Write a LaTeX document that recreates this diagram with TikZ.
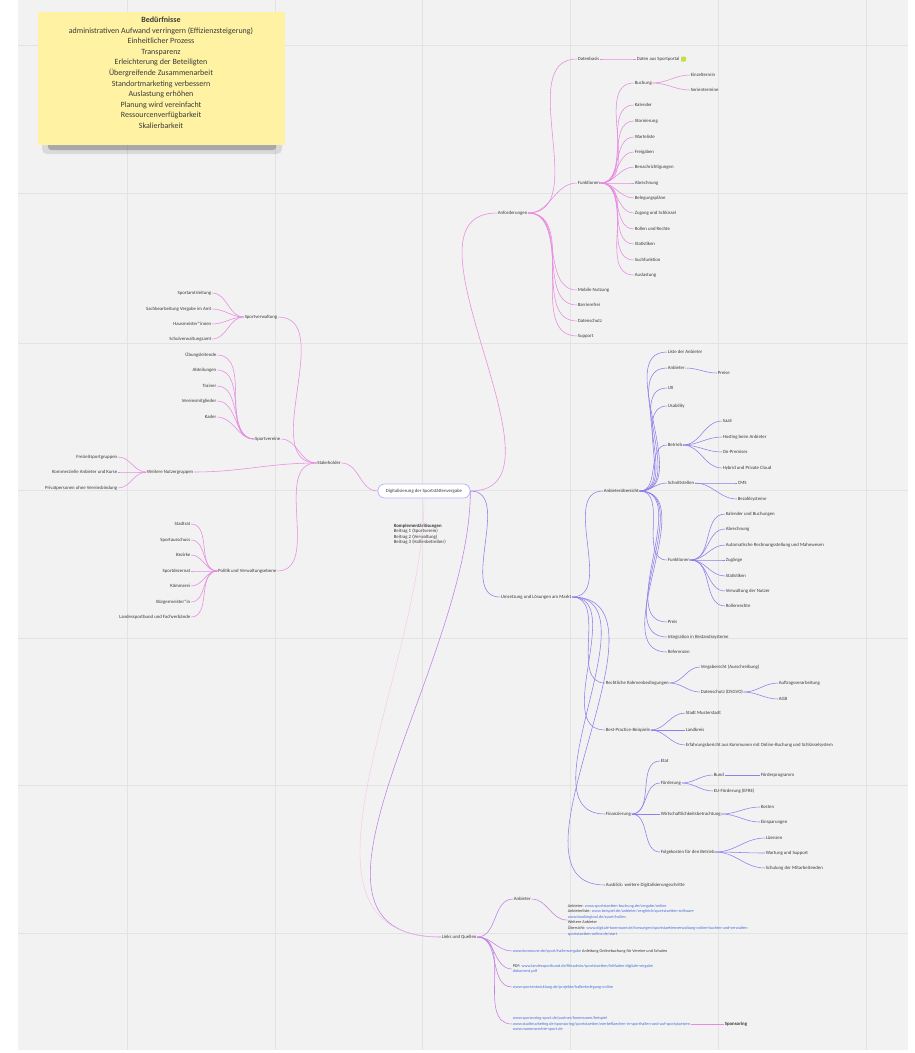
\documentclass[tikz,border=0pt]{standalone}
\usepackage{fontspec}
\setmainfont{Carlito}

\definecolor{bg}{HTML}{F2F2F2}
\definecolor{gridc}{HTML}{E3E3E3}
\definecolor{notiz}{HTML}{FFF3A3}
\definecolor{pinkl}{HTML}{E88AE2}
\definecolor{viol}{HTML}{8F7EEB}
\definecolor{lila}{HTML}{C47DE6}
\definecolor{linkc}{HTML}{4C70DA}
\definecolor{txt}{HTML}{3A3A3A}

\begin{document}
\begin{tikzpicture}[x=1pt,y=-1pt,
  every node/.style={font=\fontsize{4.8}{5.6}\selectfont, text=txt, inner sep=0.6pt},
  rl/.style={anchor=west},
  ll/.style={anchor=east},
  pk/.style={draw=pinkl, line width=0.55pt},
  vi/.style={draw=viol, line width=0.55pt},
  li/.style={draw=lila, line width=0.55pt},
  link/.style={anchor=west, align=left, text=linkc, font=\fontsize{4.2}{5.6}\selectfont}]

\useasboundingbox (0,0) rectangle (915,1053);
\fill[white] (0,0) rectangle (915,1053);
\fill[bg] (18,0) rectangle (908,1050);
\foreach \x in {127,275,422,570,718,866}
  \draw[gridc, line width=0.8pt] (\x,0) -- (\x,1050);
\foreach \y in {45,193,343,490,638,785,933}
  \draw[gridc, line width=0.8pt] (18,\y) -- (908,\y);

% Notiz
\fill[black, opacity=0.10, rounded corners=5pt] (42,134) rectangle (282,154);
\fill[black, opacity=0.22, rounded corners=3pt] (48,139) rectangle (276,150);
\node[fill=notiz, minimum width=247pt, minimum height=133pt, anchor=north west] (zettel) at (38,12) {};
\node[anchor=north, align=center, font=\fontsize{8}{10.6}\selectfont] (bed) at (161,16) {\textbf{Bedürfnisse}\\
  administrativen Aufwand verringern (Effizienzsteigerung)\\
  Einheitlicher Prozess\\ Transparenz\\ Erleichterung der Beteiligten\\
  Übergreifende Zusammenarbeit\\ Standortmarketing verbessern\\
  Auslastung erhöhen\\ Planung wird vereinfacht\\
  Ressourcenverfügbarkeit\\ Skalierbarkeit};

% Mitte
\node[draw=viol!60, fill=white, rounded corners=6.5pt, minimum width=92pt, minimum height=14pt, line width=0.7pt] (mitte) at (424,491) {Digitalisierung der Sportstättenvergabe};
\node[anchor=north west, align=left] (beitrag) at (393,523) {\textbf{Komplementärlösungen}\\Beitrag 1 (Sportverein)\\Beitrag 2 (Verwaltung)\\Beitrag 3 (Hallenbetreiber)};

% Stakeholder
\node (stake) at (329,463) {Stakeholder};
\draw[pk] (mitte.west) to[out=180,in=0] (stake.east);
\node[ll] (verw) at (278,317) {Sportverwaltung};
\node[ll] (verein) at (281,439) {Sportvereine};
\node[ll] (weitere) at (194,472) {Weitere Nutzergruppen};
\node[ll] (politik) at (277,571) {Politik und Verwaltungsebene};
\foreach \n in {verw,verein,weitere,politik}
  \draw[pk] (stake.west) to[out=180,in=0] (\n.east);

\foreach \lab/\y [count=\i] in {Sportamtsleitung/293, Sachbearbeitung Vergabe im Amt/309, Hausmeister*innen/324, Schulverwaltungsamt/339} {
  \node[ll] (verw\i) at (212,\y) {\lab};
  \draw[pk] (verw.west) to[out=180,in=0] (verw\i.east);
}
\foreach \lab/\y [count=\i] in {Übungsleitende/355, Abteilungen/370, Trainer/386, Vereinsmitglieder/401, Kader/417} {
  \node[ll] (verein\i) at (217,\y) {\lab};
  \draw[pk] (verein.west) to[out=180,in=0] (verein\i.east);
}
\foreach \lab/\y [count=\i] in {Freizeitsportgruppen/457, Kommerzielle Anbieter und Kurse/472, Privatpersonen ohne Vereinsbindung/488} {
  \node[ll] (weitere\i) at (118,\y) {\lab};
  \draw[pk] (weitere.west) to[out=180,in=0] (weitere\i.east);
}
\foreach \lab/\y [count=\i] in {Stadtrat/524, Sportausschuss/540, Bezirke/555, Sportdezernat/571, Kämmerei/586, Bürgermeister*in/602, Landessportbund und Fachverbände/617} {
  \node[ll] (politik\i) at (191,\y) {\lab};
  \draw[pk] (politik.west) to[out=180,in=0] (politik\i.east);
}

% Anforderungen
\node[rl] (anf) at (497,213) {Anforderungen};
\draw[pk] (mitte.east) to[out=0,in=180] (anf.west);
\node[rl] (daten) at (577,59) {Datenbasis};
\node[rl] (funk) at (577,183) {Funktionen};
\draw[pk] (anf.east) to[out=0,in=180] (daten.west);
\draw[pk] (anf.east) to[out=0,in=180] (funk.west);
\node[rl] (portal) at (636,59) {Daten aus Sportportal};
\fill[yellow!70!green!80, rounded corners=0.8pt] (681,56.5) rectangle (686,61.5);
\draw[pk] (daten.east) to[out=0,in=180] (portal.west);
\foreach \lab/\y [count=\i] in {Mobile Nutzung/290, Barrierefrei/305, Datenschutz/321, Support/336} {
  \node[rl] (anf\i) at (577,\y) {\lab};
  \draw[pk] (anf.east) to[out=0,in=180] (anf\i.west);
}
\node[rl] (buchung) at (634,83) {Buchung};
\draw[pk] (funk.east) to[out=0,in=180] (buchung.west);
\node[rl] (einzel) at (690,75) {Einzeltermin};
\node[rl] (serie) at (690,90) {Serientermine};
\draw[pk] (buchung.east) to[out=0,in=180] (einzel.west);
\draw[pk] (buchung.east) to[out=0,in=180] (serie.west);
\foreach \lab/\y [count=\i] in {Kalender/105, Stornierung/121, Warteliste/137, Freigaben/152, Benachrichtigungen/167, Abrechnung/183, Belegungspläne/198, Zugang und Schlüssel/213, Rollen und Rechte/229, Statistiken/244, Suchfunktion/260, Auslastung/275} {
  \node[rl] (funk\i) at (634,\y) {\lab};
  \draw[pk] (funk.east) to[out=0,in=180] (funk\i.west);
}

% Umsetzung
\node[rl] (tech) at (500,597) {Umsetzung und Lösungen am Markt};
\draw[vi] (mitte.east) to[out=0,in=180] (tech.west);
\node[rl] (markt) at (603,491) {Anbieterübersicht};
\node[rl] (recht) at (605,683) {Rechtliche Rahmenbedingungen};
\node[rl] (best) at (605,730) {Best-Practice-Beispiele};
\node[rl] (finanz) at (605,814) {Finanzierung};
\node[rl] (ausblick) at (605,885) {Ausblick: weitere Digitalisierungsschritte};
\foreach \n in {markt,recht,best,finanz,ausblick}
  \draw[vi] (tech.east) to[out=0,in=180] (\n.west);

\node[rl] (anbieter) at (667,368) {Anbieter};
\node[rl] (preise) at (717,373) {Preise};
\draw[vi] (anbieter.east) to[out=0,in=180] (preise.west);
\node[rl] (betrieb) at (667,445) {Betrieb};
\node[rl] (schnitt) at (667,483) {Schnittstellen};
\node[rl] (mfunk) at (667,560) {Funktionen};
\foreach \n in {anbieter,betrieb,schnitt,mfunk}
  \draw[vi] (markt.east) to[out=0,in=180] (\n.west);
\foreach \lab/\y [count=\i] in {Liste der Anbieter/352, UX/388, Usability/406, Preis/622, Integration in Bestandssysteme/637, Referenzen/652} {
  \node[rl] (markt\i) at (667,\y) {\lab};
  \draw[vi] (markt.east) to[out=0,in=180] (markt\i.west);
}
\foreach \lab/\y [count=\i] in {SaaS/421, Hosting beim Anbieter/437, On-Premises/452, Hybrid und Private Cloud/468} {
  \node[rl] (betrieb\i) at (722,\y) {\lab};
  \draw[vi] (betrieb.east) to[out=0,in=180] (betrieb\i.west);
}
\foreach \lab/\y [count=\i] in {CMS/483, Bezahlsysteme/499} {
  \node[rl] (schnitt\i) at (737,\y) {\lab};
  \draw[vi] (schnitt.east) to[out=0,in=180] (schnitt\i.west);
}
\foreach \lab/\y [count=\i] in {Kalender und Buchungen/514, Abrechnung/529, Automatische Rechnungsstellung und Mahnwesen/545, Zugänge/560, Statistiken/576, Verwaltung der Nutzer/591, Rollenrechte/606} {
  \node[rl] (mfunk\i) at (725,\y) {\lab};
  \draw[vi] (mfunk.east) to[out=0,in=180] (mfunk\i.west);
}

\node[rl] (vergabe) at (700,667) {Vergaberecht (Ausschreibung)};
\node[rl] (dsgvo) at (700,692) {Datenschutz (DSGVO)};
\draw[vi] (recht.east) to[out=0,in=180] (vergabe.west);
\draw[vi] (recht.east) to[out=0,in=180] (dsgvo.west);
\foreach \lab/\y [count=\i] in {Auftragsverarbeitung/683, AGB/699} {
  \node[rl] (dsgvo\i) at (778,\y) {\lab};
  \draw[vi] (dsgvo.east) to[out=0,in=180] (dsgvo\i.west);
}
\foreach \lab/\y [count=\i] in {Stadt Musterstadt/713, Landkreis/730, Erfahrungsbericht aus Kommunen mit Online-Buchung und Schlüsselsystem/745} {
  \node[rl] (best\i) at (685,\y) {\lab};
  \draw[vi] (best.east) to[out=0,in=180] (best\i.west);
}

\node[rl] (etat) at (660,761) {Etat};
\node[rl] (foerder) at (660,783) {Förderung};
\node[rl] (wirt) at (660,814) {Wirtschaftlichkeitsbetrachtung};
\node[rl] (folge) at (660,852) {Folgekosten für den Betrieb};
\foreach \n in {etat,foerder,wirt,folge}
  \draw[vi] (finanz.east) to[out=0,in=180] (\n.west);
\node[rl] (bund) at (713,775) {Bund};
\node[rl] (eu) at (713,791) {EU-Förderung (EFRE)};
\node[rl] (programm) at (760,775) {Förderprogramm};
\draw[vi] (foerder.east) to[out=0,in=180] (bund.west);
\draw[vi] (foerder.east) to[out=0,in=180] (eu.west);
\draw[vi] (bund.east) -- (programm.west);
\foreach \lab/\y [count=\i] in {Kosten/807, Einsparungen/822} {
  \node[rl] (wirt\i) at (760,\y) {\lab};
  \draw[vi] (wirt.east) to[out=0,in=180] (wirt\i.west);
}
\foreach \lab/\y [count=\i] in {Lizenzen/838, Wartung und Support/853, Schulung der Mitarbeitenden/868} {
  \node[rl] (folge\i) at (765,\y) {\lab};
  \draw[vi] (folge.east) to[out=0,in=180] (folge\i.west);
}

% Quellen
\node[rl] (quellen) at (441,937) {Links und Quellen};
\draw[li] (mitte.east) to[out=-90,in=180] (quellen.west);
\draw[pinkl!50, line width=0.4pt] (mitte.south) to[out=-90,in=180] (quellen.west);
\node[rl] (qanb) at (513,899) {Anbieter};
\node[link] (q0) at (567,920) {\textcolor{txt}{Anbieter:} www.sportstaetten-buchung.de/vergabe/online\\
  \textcolor{txt}{Anbieterliste:} www.beispiel.de/anbieter/vergleich/sportstaetten-software\\
  www.bookingtool.de/sport/hallen\\
  \textcolor{txt}{Weitere Anbieter}\\
  \textcolor{txt}{Übersicht:} www.digitale-kommune.de/loesungen/sportstaettenverwaltung-online-buchen-und-verwalten\\
  sportstaetten-online.de/start};
\draw[li] (quellen.east) to[out=0,in=180] (qanb.west);
\draw[li] (qanb.east) to[out=0,in=180] (q0.west);
\node[link] (q1) at (512,951) {www.kommune.de/sport/hallenvergabe \textcolor{txt}{Anleitung Onlinebuchung für Vereine und Schulen}};
\node[link] (q2) at (512,969) {\textcolor{txt}{PDF:} www.landessportbund.de/fileadmin/sportstaetten/leitfaden-digitale-vergabe\\dokument.pdf};
\node[link] (q3) at (512,987) {www.sportentwicklung.de/projekte/hallenbelegung-online};
\node[link] (q4) at (512,1024) {www.sponsoring-sport.de/partner/kommunen/beispiel\\
  www.stadtmarketing.de/sponsoring/sportstaetten/werbeflaechen-in-sporthallen-und-auf-sportplaetzen\\
  www.namensrechte-sport.de};
\foreach \n in {q1,q2,q3,q4}
  \draw[li] (quellen.east) to[out=0,in=180] (\n.west);
\node[rl, font=\fontsize{4.8}{5.6}\selectfont\bfseries] (spons) at (724,1024) {Sponsoring};
\draw[pk] (q4.east) -- (spons.west);

\end{tikzpicture}
\end{document}
